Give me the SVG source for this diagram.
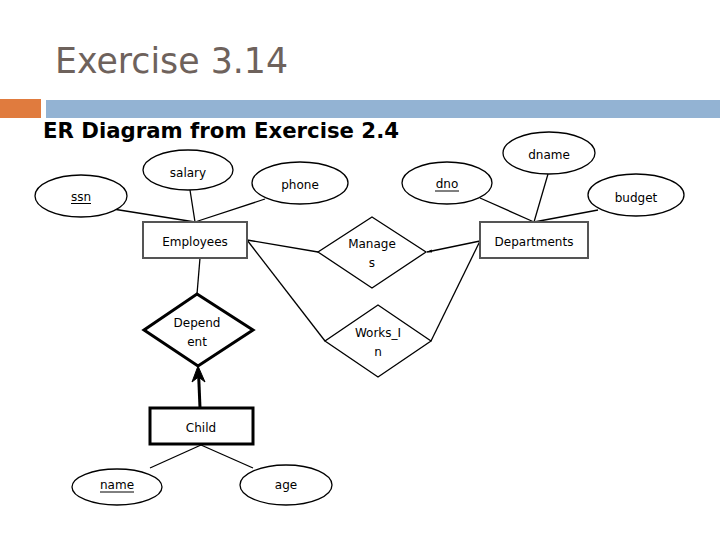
<svg xmlns="http://www.w3.org/2000/svg" width="720" height="540" viewBox="0 0 720 540">
<style>
.t{font-family:"DejaVu Sans","Liberation Sans",sans-serif;font-size:12px;fill:#000;text-anchor:middle}
.at{fill:#fff;stroke:#000;stroke-width:1.3}
.ent{fill:#fff;stroke:#555;stroke-width:2}
.rel{fill:#fff;stroke:#000;stroke-width:1.3}
.c{stroke:#000;stroke-width:1.3;fill:none}
.ul{stroke:#000;stroke-width:1}
</style>
<defs>
<marker id="ah" viewBox="0 0 10 10" refX="10" refY="5" markerWidth="5" markerHeight="5" markerUnits="userSpaceOnUse" orient="auto">
<path d="M0,2 L10,5 L0,8 z" fill="#000"/>
</marker>
</defs>
<rect width="720" height="540" fill="#fff"/>
<text x="55" y="73" font-family="DejaVu Sans,sans-serif" font-size="36" fill="#6e625c" textLength="233" lengthAdjust="spacingAndGlyphs">Exercise 3.14</text>
<rect x="0" y="99" width="41" height="19" fill="#e07b3e"/>
<rect x="46" y="100" width="674" height="18" fill="#93b3d3"/>
<text x="43" y="138" font-family="DejaVu Sans,sans-serif" font-size="22" font-weight="bold" fill="#000" textLength="356" lengthAdjust="spacingAndGlyphs">ER Diagram from Exercise 2.4</text>

<g id="connectors">
<line class="c" x1="113" y1="209" x2="195" y2="222"/>
<line class="c" x1="190" y1="190" x2="195" y2="222"/>
<line class="c" x1="265" y1="199" x2="195" y2="222"/>
<line class="c" x1="480" y1="198" x2="534" y2="222"/>
<line class="c" x1="548" y1="174" x2="534" y2="222"/>
<line class="c" x1="598" y1="210" x2="534" y2="222"/>
<line class="c" x1="247" y1="240" x2="318" y2="252"/>
<line class="c" x1="247" y1="240" x2="325" y2="341"/>
<line class="c" x1="480" y1="241" x2="431" y2="341"/>
<line class="c" x1="480" y1="241" x2="427" y2="252" stroke-width="1.8" marker-end="url(#ah)"/>
<line class="c" x1="200" y1="258" x2="197" y2="294"/>
<line class="c" x1="201" y1="445" x2="150" y2="468"/>
<line class="c" x1="201" y1="445" x2="253" y2="468"/>
<line x1="200" y1="408" x2="198.5" y2="372" stroke="#000" stroke-width="3"/>
<path d="M198,366 L205,382 L198.5,377 L192,382 z" fill="#000" stroke="#000" stroke-width="1"/>
</g>

<g id="ssn"><ellipse class="at" cx="81" cy="196" rx="46" ry="21"/><text class="t" x="81" y="201">ssn</text><line class="ul" x1="71" y1="203.5" x2="91" y2="203.5"/></g>
<g id="salary"><ellipse class="at" cx="188" cy="170" rx="45" ry="20"/><text class="t" x="188" y="177">salary</text></g>
<g id="phone"><ellipse class="at" cx="300" cy="183" rx="48" ry="21"/><text class="t" x="300" y="189">phone</text></g>
<g id="employees"><rect class="ent" x="143" y="222" width="104" height="36"/><text class="t" x="195" y="246">Employees</text></g>

<g id="dno"><ellipse class="at" cx="447" cy="183" rx="45" ry="21"/><text class="t" x="447" y="188">dno</text><line class="ul" x1="435" y1="191" x2="459" y2="191"/></g>
<g id="dname"><ellipse class="at" cx="549" cy="153" rx="46" ry="21"/><text class="t" x="549" y="159">dname</text></g>
<g id="budget"><ellipse class="at" cx="636" cy="195" rx="48" ry="21"/><text class="t" x="636" y="202">budget</text></g>
<g id="departments"><rect class="ent" x="480" y="222" width="108" height="36"/><text class="t" x="534" y="246">Departments</text></g>

<g id="manages"><polygon class="rel" points="372,217 426,252 372,288 318,252"/><text class="t" x="372" y="248">Manage</text><text class="t" x="372" y="267">s</text></g>
<g id="works_in"><polygon class="rel" points="378,305 431,341 378,377 325,341"/><text class="t" x="378" y="337">Works_I</text><text class="t" x="378" y="356">n</text></g>

<g id="dependent"><polygon points="197,294 253,330 198,366 144,330" fill="#fff" stroke="#000" stroke-width="3"/><text class="t" x="197" y="327">Depend</text><text class="t" x="197" y="346">ent</text></g>
<g id="child"><rect x="150" y="408" width="103" height="36" fill="#fff" stroke="#000" stroke-width="3"/><text class="t" x="201" y="432">Child</text></g>
<g id="name"><ellipse class="at" cx="117" cy="487" rx="45" ry="18"/><text class="t" x="117" y="489">name</text><line class="ul" x1="100" y1="492" x2="134" y2="492"/></g>
<g id="age"><ellipse class="at" cx="286" cy="485" rx="46" ry="20"/><text class="t" x="286" y="489">age</text></g>
</svg>
